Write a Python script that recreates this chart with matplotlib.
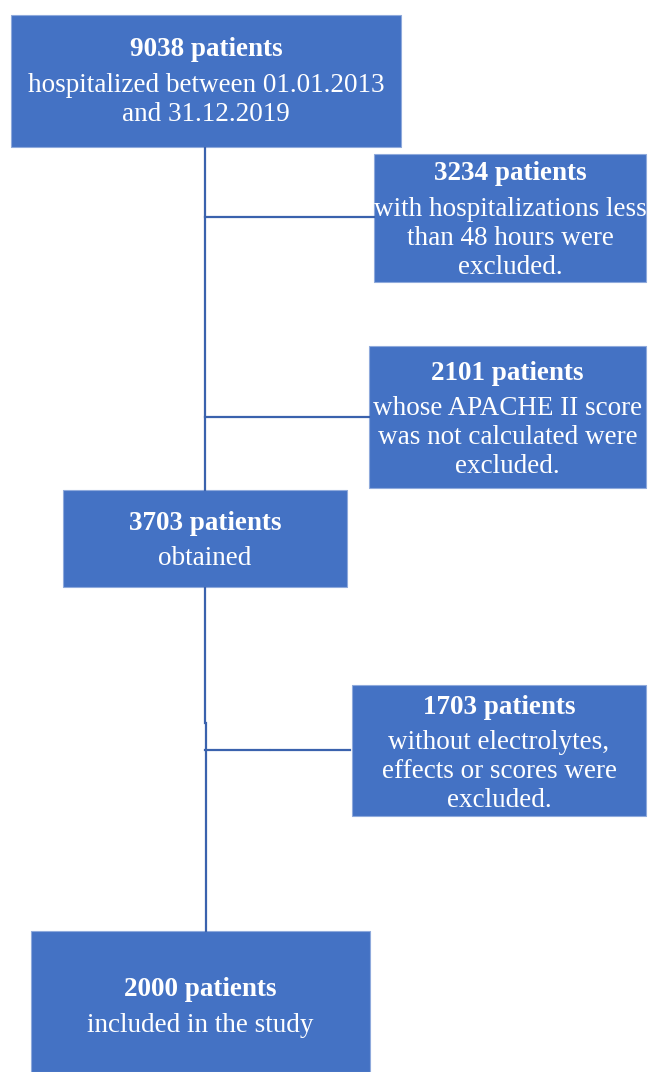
import matplotlib
matplotlib.use("Agg")
import matplotlib.pyplot as plt
from matplotlib.patches import Rectangle

# flow chart data
counts = [9038, 3234, 2101, 3703, 1703, 2000]
captions = [
    "hospitalized between 01.01.2013\nand 31.12.2019",
    "with hospitalizations less\nthan 48 hours were\nexcluded.",
    "whose APACHE II score\nwas not calculated were\nexcluded.",
    "obtained",
    "without electrolytes,\neffects or scores were\nexcluded.",
    "included in the study",
]

# layout (pixel coordinates, y down): x0, y0, x1, y1
boxes = [
    (11, 15, 401, 147),
    (374, 154, 646, 282),
    (369, 346, 646, 488),
    (63, 490, 347, 587),
    (352, 685, 646, 816),
    (31, 931, 370, 1072),
]
title_y = [50, 174, 373, 523, 707, 990]

blue = "#4472C4"
line_col = "#3a62ad"

plt.rcParams['font.family'] = ['Liberation Serif', 'DejaVu Serif']

fig = plt.figure(figsize=(6.48, 10.72), dpi=100)
ax = fig.add_axes([0, 0, 1, 1])
ax.set_xlim(0, 648)
ax.set_ylim(1072, 0)
ax.axis('off')

# connectors
ax.plot([205, 205], [148, 490], color=line_col, lw=1.6)
ax.plot([205, 374], [217, 217], color=line_col, lw=1.6)
ax.plot([205, 369], [417, 417], color=line_col, lw=1.6)
ax.plot([205, 205], [588, 723], color=line_col, lw=1.6)
ax.plot([206, 206], [723, 931], color=line_col, lw=1.6)
ax.plot([205, 269], [750, 750], color=line_col, lw=1.6)
ax.plot([271, 350], [750, 750], color=line_col, lw=1.6)

for (x0, y0, x1, y1), n, cap, ty in zip(boxes, counts, captions, title_y):
    ax.add_patch(Rectangle((x0, y0), x1 - x0, y1 - y0, facecolor=blue,
                           edgecolor="#8faadc", lw=0.8))
    cx = (x0 + x1) / 2
    ax.text(cx, ty, f"{n} patients", ha='center', va='center', color='white',
            fontsize=19.5, fontweight='bold')
    ax.text(cx, ty + 23, cap, ha='center', va='top', color='white',
            fontsize=19.5, linespacing=1.2)

fig.savefig("out.png", dpi=100)
